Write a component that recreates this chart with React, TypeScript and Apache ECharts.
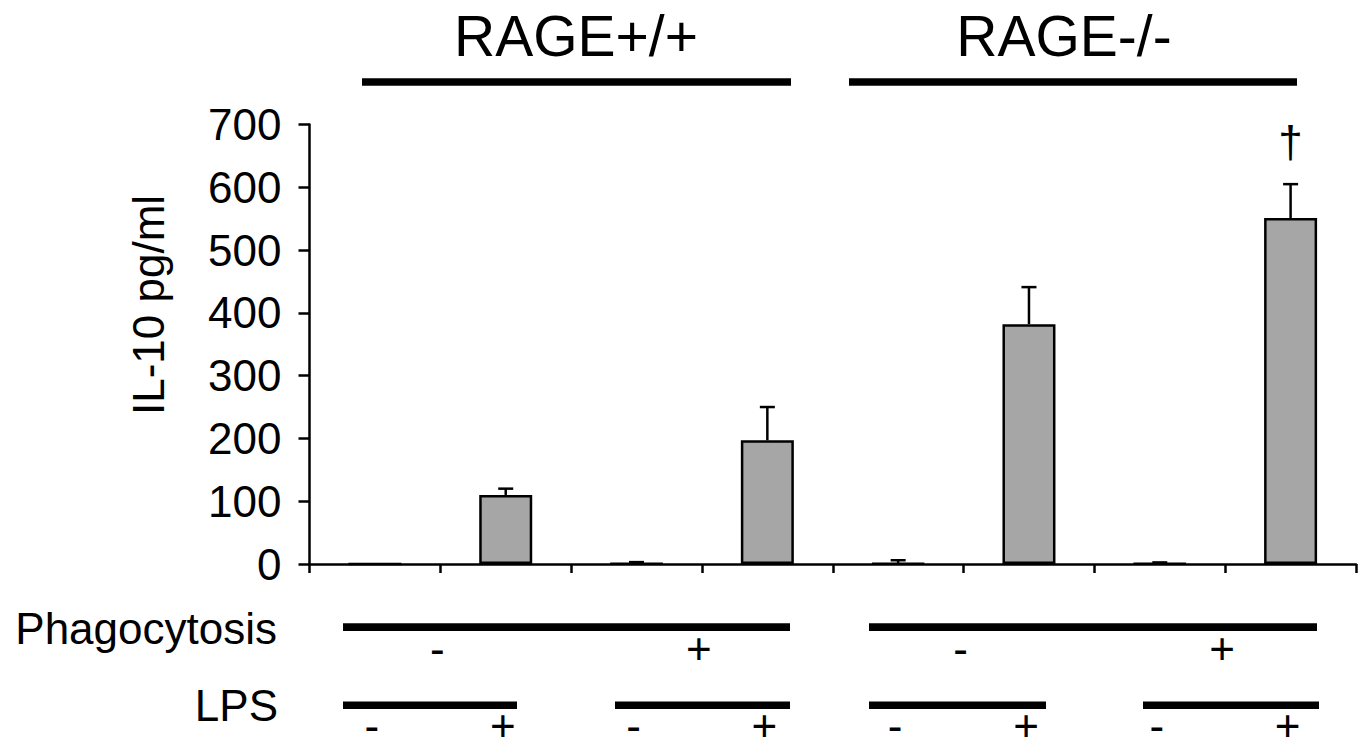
import React, { useEffect, useRef } from "react";
import * as echarts from "echarts";

// ---- data ----
const categories = [
  "RAGE+/+ Phago- LPS-",
  "RAGE+/+ Phago- LPS+",
  "RAGE+/+ Phago+ LPS-",
  "RAGE+/+ Phago+ LPS+",
  "RAGE-/- Phago- LPS-",
  "RAGE-/- Phago- LPS+",
  "RAGE-/- Phago+ LPS-",
  "RAGE-/- Phago+ LPS+",
];
const means = [0, 110, 0.5, 197, 1, 382, 0.5, 551];
const errors = [0, 10, 2.5, 53, 5, 59, 2, 54];
const marks = ["", "", "", "", "", "", "", "†"];
const genotypeLabels = ["RAGE+/+", "RAGE-/-"];
const phagoLabels = ["-", "+", "-", "+"];
const lpsLabels = ["-", "+", "-", "+", "-", "+", "-", "+"];
const yAxisTitle = "IL-10 pg/ml";
const phagoTitle = "Phagocytosis";
const lpsTitle = "LPS";

const FONT = "'Liberation Sans', Arial, Helvetica, sans-serif";

export default function App() {
  const ref = useRef<HTMLDivElement>(null);

  useEffect(() => {
    document.body.style.margin = "0";
    const chart = echarts.init(ref.current!, undefined, { renderer: "svg" });

    const gridLeft = 309.5;
    const gridRight = 7;
    const gridWidth = 1363 - gridLeft - gridRight;
    const catW = gridWidth / categories.length;
    const catCenter = (i: number) => gridLeft + catW * (i + 0.5);

    const graphics: any[] = [];
    // genotype titles and bars
    const topLines = [
      [362, 791],
      [849, 1297],
    ];
    const titleX = [576, 1064];
    genotypeLabels.forEach((t, i) => {
      graphics.push({
        type: "text",
        x: titleX[i],
        y: 36,
        style: {
          text: t,
          fontSize: 57,
          fontFamily: FONT,
          fill: "#000",
          align: "center",
          verticalAlign: "middle",
        },
      });
      graphics.push({
        type: "rect",
        shape: { x: topLines[i][0], y: 78.3, width: topLines[i][1] - topLines[i][0], height: 7.4 },
        style: { fill: "#000" },
      });
    });

    // row titles
    graphics.push({
      type: "text",
      x: 277,
      y: 628,
      style: { text: phagoTitle, fontSize: 44, fontFamily: FONT, fill: "#000", align: "right", verticalAlign: "middle" },
    });
    graphics.push({
      type: "text",
      x: 278,
      y: 705,
      style: { text: lpsTitle, fontSize: 44, fontFamily: FONT, fill: "#000", align: "right", verticalAlign: "middle" },
    });

    // phagocytosis lines and signs
    const phagoLines = [
      [343, 790],
      [869, 1317],
    ];
    phagoLines.forEach((l) =>
      graphics.push({
        type: "rect",
        shape: { x: l[0], y: 623.3, width: l[1] - l[0], height: 7.7 },
        style: { fill: "#000" },
      })
    );
    phagoLabels.forEach((s, i) => {
      const x = (catCenter(2 * i) + catCenter(2 * i + 1)) / 2 - 3;
      graphics.push({
        type: "text",
        x,
        y: 648,
        style: { text: s, fontSize: 44, fontFamily: FONT, fill: "#000", align: "center", verticalAlign: "middle" },
      });
    });

    // LPS lines and signs
    const lpsLines = [
      [343, 517],
      [615, 790],
      [869, 1046],
      [1143, 1319],
    ];
    lpsLines.forEach((l) =>
      graphics.push({
        type: "rect",
        shape: { x: l[0], y: 701.5, width: l[1] - l[0], height: 7.6 },
        style: { fill: "#000" },
      })
    );
    lpsLabels.forEach((s, i) => {
      graphics.push({
        type: "text",
        x: catCenter(i) - 3,
        y: 725,
        style: { text: s, fontSize: 44, fontFamily: FONT, fill: "#000", align: "center", verticalAlign: "middle" },
      });
    });

    // y-axis title
    graphics.push({
      type: "text",
      x: 148,
      y: 305,
      rotation: Math.PI / 2,
      style: { text: yAxisTitle, fontSize: 44, fontFamily: FONT, fill: "#000", align: "center", verticalAlign: "middle" },
    });

    const errData = categories.map((_, i) => [i, means[i], errors[i], i]);

    chart.setOption({
      animation: false,
      backgroundColor: "#fff",
      grid: { left: gridLeft, right: gridRight, top: 124.5, bottom: 175, containLabel: false, outerBoundsMode: "none" },
      xAxis: {
        type: "category",
        data: categories,
        boundaryGap: true,
        axisLine: { lineStyle: { color: "#000", width: 2.5 } },
        axisTick: { show: true, length: 9, interval: 0, lineStyle: { color: "#000", width: 2.5 } },
        axisLabel: { show: false },
        splitLine: { show: false },
      },
      yAxis: {
        type: "value",
        min: 0,
        max: 700,
        interval: 100,
        axisLine: { show: true, lineStyle: { color: "#000", width: 2.5 } },
        axisTick: { show: true, length: 11, lineStyle: { color: "#000", width: 2.5 } },
        axisLabel: { fontSize: 44, color: "#000", fontFamily: FONT, margin: 28 },
        splitLine: { show: false },
      },
      series: [
        {
          type: "bar",
          data: means,
          barWidth: 53,
          itemStyle: { color: "#a6a6a6", borderColor: "#000", borderWidth: 2.5 },
          z: 2,
        },
        {
          type: "custom",
          data: errData,
          encode: { x: 0, y: 1 },
          z: 3,
          renderItem: (params: any, api: any) => {
            const i = api.value(0);
            const m = api.value(1);
            const e = api.value(2);
            const idx = api.value(3);
            const children: any[] = [];
            const base = api.coord([i, m]);
            const top = api.coord([i, m + e]);
            if (e > 0) {
              children.push({
                type: "line",
                shape: { x1: base[0], y1: base[1], x2: top[0], y2: top[1] },
                style: { stroke: "#000", lineWidth: 2.5 },
              });
              children.push({
                type: "line",
                shape: { x1: top[0] - 7.5, y1: top[1], x2: top[0] + 7.5, y2: top[1] },
                style: { stroke: "#000", lineWidth: 2.5 },
              });
            }
            const mk = marks[idx];
            if (mk) {
              children.push({
                type: "text",
                x: top[0],
                y: top[1] - 43,
                style: { text: mk, fontSize: 44, fontFamily: FONT, fill: "#000", align: "center", verticalAlign: "middle" },
              });
            }
            return { type: "group", children };
          },
        },
      ],
      graphic: graphics,
    });

    return () => chart.dispose();
  }, []);

  return <div ref={ref} style={{ width: 1363, height: 739 }} />;
}
